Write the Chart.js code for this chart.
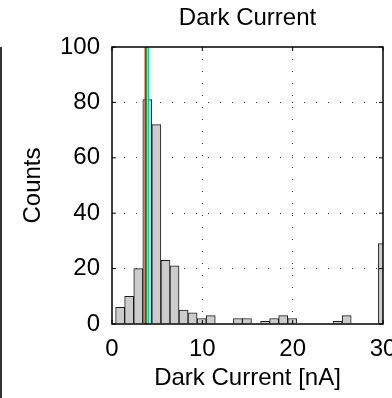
<!DOCTYPE html>
<html><head><meta charset="utf-8">
<script src="https://cdn.jsdelivr.net/npm/chart.js@4.4.0/dist/chart.umd.min.js"></script>
<style>
html,body{margin:0;padding:0;background:#fff;overflow:hidden;width:392px;height:398px;}
#wrap{position:absolute;left:0;top:0;width:420px;height:398px;}
#edge{position:absolute;left:0;top:47px;width:1.5px;height:351px;background:#333;}
</style></head><body>
<div id="wrap"><canvas id="c" width="420" height="398"></canvas></div>
<div id="edge"></div>
<script>
// Histogram bin centres (nA) and counts
const binCenters = [0.90, 1.90, 2.91, 3.91, 4.91, 5.92, 6.92, 7.92, 8.92, 9.93,
                    10.93, 11.93, 12.94, 13.94, 14.94, 15.95, 16.95, 17.95, 18.95, 19.96,
                    20.96, 21.96, 22.97, 23.97, 24.97, 25.98, 26.98, 27.98, 28.98, 29.99];
const counts = [6, 10, 20, 81, 72, 23, 21, 5, 4, 2,
                3, 0, 0, 2, 2, 0, 1, 2, 3, 2,
                0, 0, 0, 0, 1, 3, 0, 0, 0, 29];
// Vertical marker lines (nA)
const markerValues = [3.68, 3.79, 3.90, 4.02];
const markerColors = ['#e00000', '#00b000', '#e6c800', '#00c0e6'];
const xTicks = [0, 10, 20, 30];
const yTicks = [0, 20, 40, 60, 80, 100];

Chart.defaults.font.family = "'Liberation Sans', Arial, Helvetica, sans-serif";
Chart.defaults.color = '#000';

const FS = 24;

const datasets = [{
  type: 'bar',
  data: binCenters.map((c, i) => ({x: c, y: counts[i]})),
  backgroundColor: '#cccccc',
  borderColor: '#1a1a1a',
  borderWidth: 1,
  barPercentage: 1,
  categoryPercentage: 1,
  grouped: false,
  clip: 0,
  order: 2
}];
markerValues.forEach((v, i) => {
  datasets.push({
    type: 'line',
    data: [{x: v, y: 0}, {x: v, y: 100}],
    borderColor: markerColors[i],
    borderWidth: 1.3,
    pointRadius: 0,
    fill: false,
    order: 0
  });
});

const boxPlugin = {
  id: 'box',
  afterDatasetsDraw(chart) {
    const {ctx, chartArea: a, scales: {x, y}} = chart;
    ctx.save();
    ctx.strokeStyle = '#000';
    ctx.lineWidth = 1;
    ctx.beginPath();
    yTicks.forEach(v => {
      const py = y.getPixelForValue(v);
      ctx.moveTo(a.left, py); ctx.lineTo(a.left + 4, py);
      ctx.moveTo(a.right, py); ctx.lineTo(a.right - 4, py);
    });
    xTicks.forEach(v => {
      const px = x.getPixelForValue(v);
      ctx.moveTo(px, a.bottom); ctx.lineTo(px, a.bottom - 4);
      ctx.moveTo(px, a.top); ctx.lineTo(px, a.top + 4);
    });
    ctx.stroke();
    ctx.lineWidth = 1.5;
    ctx.strokeRect(a.left, a.top, a.right - a.left, a.bottom - a.top);
    ctx.restore();
  }
};

new Chart(document.getElementById('c'), {
  data: {datasets},
  plugins: [boxPlugin],
  options: {
    responsive: false,
    animation: false,
    layout: {padding: {left: 0, right: 37, top: 0, bottom: 0}},
    plugins: {
      legend: {display: false},
      tooltip: {enabled: false},
      title: {
        display: true, text: 'Dark Current', color: '#000', fullSize: false,
        font: {size: FS, weight: 'normal'},
        padding: {top: 4, bottom: 14.2}
      }
    },
    scales: {
      x: {
        type: 'linear', min: 0, max: 30, offset: false,
        afterBuildTicks: s => { s.ticks = xTicks.map(v => ({value: v})); },
        afterFit: s => { s.height = 74; },
        ticks: {font: {size: FS}, color: '#000', padding: 11, maxRotation: 0, autoSkip: false},
        grid: {
          drawTicks: false, lineWidth: 1, offset: false,
          color: c => (c.tick && (c.tick.value === 0 || c.tick.value === 30)) ? 'rgba(0,0,0,0)' : '#333'
        },
        border: {display: false, dash: [1, 11]},
        title: {display: true, text: 'Dark Current [nA]', color: '#000', font: {size: FS}, padding: {top: 0, bottom: 5}}
      },
      y: {
        type: 'linear', min: 0, max: 100,
        afterBuildTicks: s => { s.ticks = yTicks.map(v => ({value: v})); },
        afterFit: s => { s.width = 112; },
        ticks: {font: {size: FS}, color: '#000', padding: 12},
        grid: {
          drawTicks: false, lineWidth: 1,
          color: c => (c.tick && (c.tick.value === 0 || c.tick.value === 100)) ? 'rgba(0,0,0,0)' : '#333'
        },
        border: {display: false, dash: [1, 11]},
        title: {display: true, text: 'Counts', color: '#000', font: {size: FS}, padding: {top: 18.5, bottom: 0}}
      }
    }
  }
});
</script>
</body></html>
